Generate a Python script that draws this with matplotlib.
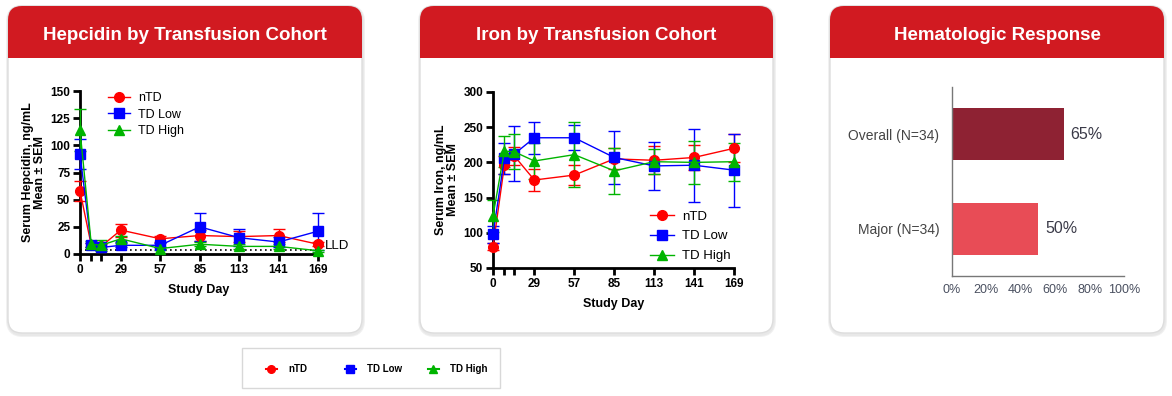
import matplotlib
matplotlib.use("Agg")
from matplotlib import pyplot as plt
from matplotlib.patches import FancyBboxPatch, Rectangle
from matplotlib.lines import Line2D

plt.rcParams['font.family'] = ['Liberation Sans', 'DejaVu Sans']

days = [0, 8, 15, 29, 57, 85, 113, 141, 169]
day_ticks = [0, 8, 15, 29, 57, 85, 113, 141, 169]
day_labels = ['0', '', '', '29', '57', '85', '113', '141', '169']
cohorts = ['nTD', 'TD Low', 'TD High']

# serum hepcidin, ng/mL (mean, SEM)
hep_ntd = [58, 8, 7, 22, 14, 17, 16, 17, 9]
hep_ntd_err = [9, 2, 2, 6, 3, 5, 5, 6, 2]
hep_low = [92, 8, 6, 8, 8, 25, 15, 11, 21]
hep_low_err = [14, 2, 1, 2, 2, 13, 8, 5, 17]
hep_high = [114, 9, 8, 14, 5, 9, 7, 7, 3]
hep_high_err = [19, 3, 5, 3, 1, 2, 2, 2, 1]
lld = 4

# serum iron, ng/mL (mean, SEM)
iron_ntd = [80, 196, 209, 175, 182, 205, 203, 207, 220]
iron_ntd_err = [5, 13, 13, 15, 14, 15, 20, 18, 20]
iron_low = [98, 206, 212, 235, 235, 207, 195, 196, 189]
iron_low_err = [12, 22, 39, 23, 18, 38, 34, 52, 52]
iron_high = [124, 216, 215, 202, 211, 188, 201, 200, 201]
iron_high_err = [23, 22, 25, 25, 46, 33, 18, 30, 27]

resp_labels = ['Major (N=34)', 'Overall (N=34)']
resp_values = [50, 65]
resp_colors = ['#E84C56', '#8E2233']

W, H = 1172, 396
RED = '#D11A21'
fig = plt.figure(figsize=(W / 100, H / 100), dpi=100)
fig.patch.set_facecolor('white')

# background layer for cards, in pixel coordinates
bg = fig.add_axes([0, 0, 1, 1], zorder=-10)
bg.set_xlim(0, W)
bg.set_ylim(H, 0)
bg.axis('off')

cards = [(8, 362, 'Hepcidin by Transfusion Cohort'),
         (420, 773, 'Iron by Transfusion Cohort'),
         (830, 1164, 'Hematologic Response')]
top, bottom, head = 6, 333, 58
r = 14
for x0, x1, title in cards:
    for d, c in [(3, '#F1F1F1'), (2, '#E8E8E8')]:
        sh = FancyBboxPatch((x0 - d + 1, top - d + 2), x1 - x0 + 2 * d - 1, bottom - top + 2 * d - 1,
                            boxstyle='round,pad=0,rounding_size=%d' % (r + d),
                            fc=c, ec='none')
        bg.add_patch(sh)
    card = FancyBboxPatch((x0, top), x1 - x0, bottom - top,
                          boxstyle='round,pad=0,rounding_size=%d' % r,
                          fc='white', ec='#DDDDDD', lw=1)
    bg.add_patch(card)
    hdr = FancyBboxPatch((x0, top), x1 - x0, head - top,
                         boxstyle='round,pad=0,rounding_size=%d' % r,
                         fc=RED, ec='none')
    bg.add_patch(hdr)
    bg.add_patch(Rectangle((x0, top + 25), x1 - x0, head - top - 25, fc=RED, ec='none'))
    bg.text((x0 + x1) / 2, 35, title, color='white', fontsize=13.5, fontweight='bold',
            ha='center', va='center')

# bottom legend box
bg.add_patch(Rectangle((242, 348), 258, 40, fc='white', ec='#D8D8D8', lw=1))

series_style = [('#FF0000', 'o'), ('#0000FF', 's'), ('#00B400', '^')]


def style_axes(ax):
    for s in ['top', 'right']:
        ax.spines[s].set_visible(False)
    for s in ['left', 'bottom']:
        ax.spines[s].set_linewidth(2)
    ax.tick_params(width=2, length=5, labelsize=8.5, pad=2)
    for t in ax.get_xticklabels() + ax.get_yticklabels():
        t.set_fontweight('bold')
    ax.set_facecolor('none')


def draw_series(ax, data):
    handles = []
    for (vals, errs), (c, m), name in zip(data, series_style, cohorts):
        ax.errorbar(days, vals, yerr=errs, color=c, marker=m, markersize=7,
                    lw=1, elinewidth=1, capsize=4, capthick=1,
                    clip_on=False, zorder=3)
        handles.append(Line2D([], [], color=c, marker=m, markersize=7, lw=1, label=name))
    return handles


# Hepcidin panel
ax1 = fig.add_axes([80 / W, 1 - 254 / H, 238 / W, 163 / H])
h1 = draw_series(ax1, [(hep_ntd, hep_ntd_err), (hep_low, hep_low_err), (hep_high, hep_high_err)])
ax1.plot([0, 169], [lld, lld], ls=(0, (1, 2)), color='black', lw=1.2, zorder=2)
ax1.text(174, lld + 3, 'LLD', fontsize=9.5, va='center', ha='left')
ax1.set_xlim(0, 169)
ax1.set_ylim(0, 150)
ax1.set_xticks(day_ticks)
ax1.set_xticklabels(day_labels)
ax1.set_yticks([0, 25, 50, 75, 100, 125, 150])
ax1.set_xlabel('Study Day', fontsize=9, fontweight='bold', labelpad=6)
ax1.set_ylabel('Serum Hepcidin, ng/mL\nMean \u00b1 SEM', fontsize=9, fontweight='bold',
               labelpad=3, linespacing=1.0)
style_axes(ax1)
ax1.legend(handles=h1, loc='upper left', bbox_to_anchor=(0.07, 1.06), frameon=False,
           fontsize=9, handlelength=1.8, labelspacing=0.35, handletextpad=0.6)

# Iron panel
ax2 = fig.add_axes([493 / W, 1 - 268 / H, 241 / W, 176 / H])
h2 = draw_series(ax2, [(iron_ntd, iron_ntd_err), (iron_low, iron_low_err), (iron_high, iron_high_err)])
ax2.set_xlim(0, 169)
ax2.set_ylim(50, 300)
ax2.set_xticks(day_ticks)
ax2.set_xticklabels(day_labels)
ax2.set_yticks([50, 100, 150, 200, 250, 300])
ax2.set_xlabel('Study Day', fontsize=9, fontweight='bold', labelpad=6)
ax2.set_ylabel('Serum Iron, ng/mL\nMean \u00b1 SEM', fontsize=9, fontweight='bold',
               labelpad=3, linespacing=1.0)
style_axes(ax2)
ax2.legend(handles=h2, loc='lower right', bbox_to_anchor=(1.035, -0.035), frameon=False,
           fontsize=9.5, handlelength=1.8, labelspacing=0.58, handletextpad=0.6)

# Hematologic response panel
ax3 = fig.add_axes([952 / W, 1 - 276 / H, 172 / W, 189 / H])
ypos = list(range(len(resp_values)))
ax3.barh(ypos, resp_values, height=0.55, color=resp_colors)
for y, v in zip(ypos, resp_values):
    ax3.text(v + 4, y, '%d%%' % v, va='center', ha='left', fontsize=11.5, color='#3A3A48')
ax3.set_xlim(0, 100)
ax3.set_ylim(-0.495, 1.495)
ax3.set_yticks(ypos)
ax3.set_yticklabels(resp_labels, fontsize=10, color='#444444')
ax3.set_xticks([0, 20, 40, 60, 80, 100])
ax3.set_xticklabels(['%d%%' % t for t in [0, 20, 40, 60, 80, 100]], fontsize=9, color='#4A5060')
ax3.tick_params(length=0, pad=6)
ax3.tick_params(axis='y', pad=9)
for s in ['top', 'right']:
    ax3.spines[s].set_visible(False)
for s in ['left', 'bottom']:
    ax3.spines[s].set_color('#777777')
    ax3.spines[s].set_linewidth(1)
ax3.set_facecolor('none')

# shared legend at the bottom, one entry per cohort
leg_x = [266, 345, 428]
for (c, m), name, x in zip(series_style, cohorts, leg_x):
    hd = Line2D([], [], color=c, marker=m, markersize=5.5, lw=1.5)
    fig.legend([hd], [name], loc='center left', bbox_to_anchor=(x / W, 1 - 369 / H),
               frameon=False, prop={'size': 7, 'weight': 'bold'},
               handlelength=1.1, handletextpad=1.2, borderpad=0, borderaxespad=0)

fig.savefig('out.png', dpi=100)
